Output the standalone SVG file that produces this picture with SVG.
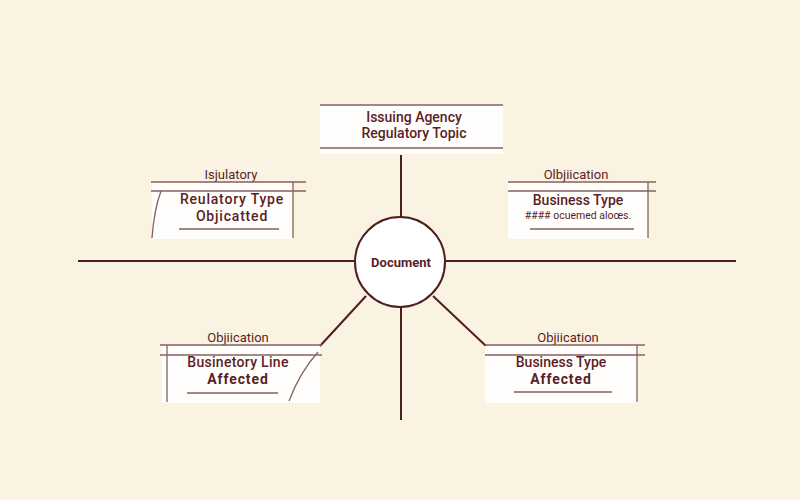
<svg xmlns="http://www.w3.org/2000/svg" width="800" height="500" viewBox="0 0 800 500">
<style>
.ln{stroke:#4e1e22;stroke-width:2;fill:none}
.th{stroke:#85625e;stroke-width:1.3;fill:none}
.box{fill:#ffffff;opacity:0.92}
.t{font-family:Roboto,"Liberation Sans",sans-serif;font-size:14px;font-weight:500;fill:#5a1f26;text-anchor:middle}
.r{font-weight:400}
.b{font-weight:700;letter-spacing:0.9px}
.w{letter-spacing:0.8px}
.s{font-size:10.5px;font-weight:400}
</style>
<rect width="800" height="500" fill="#faf3e1"/>
<g id="connectors">
<line class="ln" x1="78" y1="261" x2="355" y2="261"/>
<line class="ln" x1="446" y1="261" x2="736" y2="261"/>
<line class="ln" x1="401" y1="155" x2="401" y2="218"/>
<line class="ln" x1="401" y1="306" x2="401" y2="420"/>
<line class="ln" x1="366" y1="296" x2="320" y2="346"/>
<line class="ln" x1="433" y1="296" x2="486" y2="346"/>
</g>
<g id="document">
<circle cx="400" cy="262" r="45" fill="#ffffff" stroke="#4e1e22" stroke-width="2"/>
<text class="t" x="401" y="267" style="font-size:13px;font-weight:700">Document</text>
</g>
<g id="issuing-agency">
<rect class="box" x="320" y="104" width="183" height="50"/>
<line class="th" x1="320" y1="105" x2="503" y2="105"/>
<line class="th" x1="320" y1="148" x2="503" y2="148"/>
<text class="t" x="414" y="121.5">Issuing Agency</text>
<text class="t" x="414" y="138">Regulatory Topic</text>
</g>
<g id="regulatory-type">
<text class="t r" x="231" y="179" style="font-size:13px">Isjulatory</text>
<rect class="box" x="152" y="183" width="140" height="56"/>
<line class="th" x1="151" y1="182" x2="306" y2="182"/>
<line class="th" x1="151" y1="191" x2="306" y2="191"/>
<line class="th" x1="293" y1="182" x2="293" y2="238"/>
<path class="th" d="M161 191 Q154 210 152 238"/>
<text class="t w" x="232" y="204">Reulatory Type</text>
<text class="t w" x="232" y="220.5">Objicatted</text>
<line class="th" x1="179" y1="229" x2="279" y2="229"/>
</g>
<g id="business-type-top">
<text class="t r" x="576" y="179" style="font-size:13px">Olbjiication</text>
<rect class="box" x="508" y="183" width="140" height="56"/>
<line class="th" x1="508" y1="182" x2="656" y2="182"/>
<line class="th" x1="508" y1="191" x2="656" y2="191"/>
<line class="th" x1="648" y1="182" x2="648" y2="238"/>
<text class="t" x="578" y="205">Business Type</text>
<text class="t s" x="578" y="219">#### ocuemed aloœs.</text>
<line class="th" x1="530" y1="229" x2="634" y2="229"/>
</g>
<g id="business-line">
<text class="t r" x="238" y="342" style="font-size:13px">Objiication</text>
<rect class="box" x="162" y="346" width="158" height="57"/>
<line class="th" x1="160" y1="345" x2="322" y2="345"/>
<line class="th" x1="160" y1="355" x2="322" y2="355"/>
<line class="th" x1="167" y1="345" x2="167" y2="402"/>
<path class="th" d="M318 352 Q300 372 289 401"/>
<text class="t" x="238" y="367" style="letter-spacing:0.3px">Businetory Line</text>
<text class="t b" x="238" y="384">Affected</text>
<line class="th" x1="187" y1="393" x2="278" y2="393"/>
</g>
<g id="business-type-bottom">
<text class="t r" x="568" y="342" style="font-size:13px">Objiication</text>
<rect class="box" x="485" y="346" width="152" height="57"/>
<line class="th" x1="485" y1="345" x2="645" y2="345"/>
<line class="th" x1="485" y1="355" x2="645" y2="355"/>
<line class="th" x1="637" y1="345" x2="637" y2="402"/>
<text class="t" x="561" y="367">Business Type</text>
<text class="t b" x="561" y="384">Affected</text>
<line class="th" x1="514" y1="392" x2="612" y2="392"/>
</g>
</svg>
